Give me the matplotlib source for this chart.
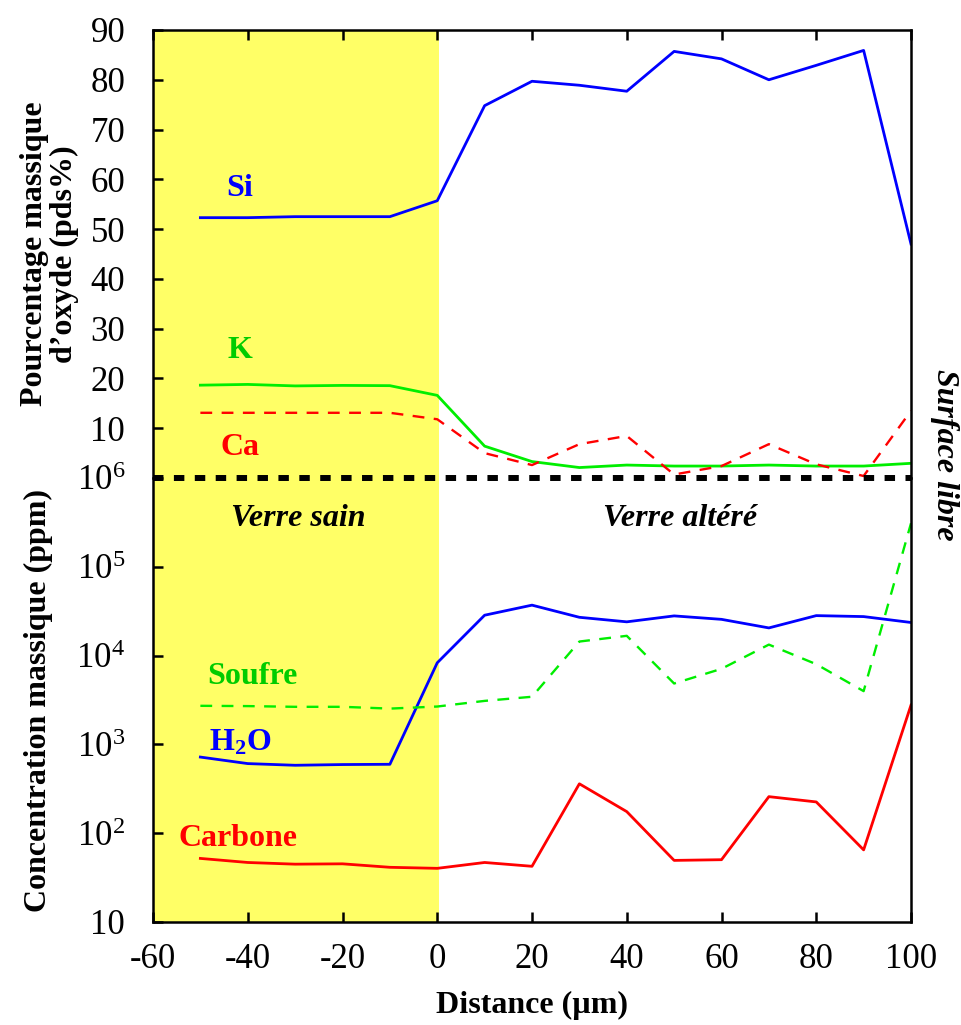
import matplotlib
matplotlib.use("Agg")
import matplotlib.pyplot as plt
from matplotlib.ticker import FixedLocator, FixedFormatter

plt.rcParams['font.family'] = ['Liberation Serif', 'DejaVu Serif']
plt.rcParams['mathtext.fontset'] = 'custom'
plt.rcParams['mathtext.rm'] = 'Liberation Serif'
plt.rcParams['mathtext.bf'] = 'Liberation Serif:bold'
plt.rcParams['mathtext.it'] = 'Liberation Serif:italic'

# ---- data ----
distance = [-50, -40, -30, -20, -10, 0, 10, 20, 30, 40, 50, 60, 70, 80, 90, 100]

# oxide weight percent (top panel)
si = [52.3, 52.3, 52.5, 52.5, 52.5, 55.7, 74.8, 79.7, 78.9, 77.7, 85.7, 84.2, 80.0, 82.9, 85.9, 47.0]
k = [18.65, 18.8, 18.5, 18.6, 18.55, 16.6, 6.4, 3.3, 2.1, 2.6, 2.4, 2.4, 2.6, 2.4, 2.4, 2.95]
ca = [13.1, 13.1, 13.1, 13.1, 13.1, 11.8, 5.0, 2.6, 6.8, 8.45, 0.7, 2.4, 6.8, 2.75, 0.4, 13.5]

# mass concentration ppm (bottom panel)
h2o = [720, 608, 582, 593, 597, 8300, 28500, 37000, 27000, 24000, 28000, 25600, 20500, 28200, 27500, 23600]
soufre = [2720, 2700, 2650, 2650, 2530, 2670, 3090, 3440, 14400, 16700, 4850, 7100, 13300, 8000, 3980, 309000]
carbone = [52, 46.8, 44.8, 45.2, 41.3, 40.2, 46.8, 42.4, 360, 175, 49.4, 50.3, 258, 225, 64.9, 2770]

x_ticks = [-60, -40, -20, 0, 20, 40, 60, 80, 100]
top_yticks = [10, 20, 30, 40, 50, 60, 70, 80, 90]
bottom_yticks = [10, 1e2, 1e3, 1e4, 1e5, 1e6]
bottom_ylabels = ['10', '10$^2$', '10$^3$', '10$^4$', '10$^5$', '10$^6$']

sain_range = (-60, 0.3)

BLUE = '#0000ff'
GREEN = '#00ee00'
GREEN_TXT = '#00cc00'
RED = '#ff0000'
YELLOW = '#ffff66'

TICK_FS = 25
LAB_FS = 23

fig = plt.figure(figsize=(9.61, 10.25), dpi=100)
left, right = 153 / 961, 911 / 961
y_top = 1 - 30 / 1025
y_mid = 1 - 478 / 1025
y_bot = 1 - 922 / 1025
ax1 = fig.add_axes([left, y_mid, right - left, y_top - y_mid])
ax2 = fig.add_axes([left, y_bot, right - left, y_mid - y_bot])

for ax in (ax1, ax2):
    ax.set_xlim(-60, 100)
    ax.axvspan(sain_range[0], sain_range[1], color=YELLOW, lw=0, zorder=0)
    for s in ax.spines.values():
        s.set_linewidth(1.8)

# top panel
ax1.set_ylim(0, 90)
ax1.plot(distance, si, color=BLUE, lw=2.0)
ax1.plot(distance, k, color=GREEN, lw=2.0)
ax1.plot(distance, ca, color=RED, lw=1.7, linestyle=(0, (5, 4)))
ax1.spines['bottom'].set_visible(False)
ax1.set_xticks(x_ticks)
ax1.xaxis.set_ticks_position('top')
ax1.tick_params(axis='x', direction='in', length=7, width=1.8, labeltop=False, labelbottom=False)
ax1.yaxis.set_major_locator(FixedLocator(top_yticks))
ax1.tick_params(axis='y', direction='in', length=7, width=1.8, labelsize=TICK_FS, pad=20)
ax1.set_ylabel("Pourcentage massique\nd\u2019oxyde (pds%)", fontsize=LAB_FS, fontweight='bold',
               labelpad=8, linespacing=1.05)

ax1.text(-41.6, 58.2, 'Si', color=BLUE, fontsize=LAB_FS, fontweight='bold', ha='center', va='center')
ax1.text(-41.6, 25.6, 'K', color=GREEN_TXT, fontsize=LAB_FS, fontweight='bold', ha='center', va='center')
ax1.text(-41.6, 6.2, 'Ca', color=RED, fontsize=LAB_FS, fontweight='bold', ha='center', va='center')

# bottom panel
ax2.set_yscale('log')
ax2.set_ylim(10, 1e6)
ax2.plot(distance, h2o, color=BLUE, lw=2.0)
ax2.plot(distance, soufre, color=GREEN, lw=1.7, linestyle=(0, (5, 4)))
ax2.plot(distance, carbone, color=RED, lw=2.0)
ax2.spines['top'].set_visible(False)
ax2.set_xticks(x_ticks)
ax2.set_xticklabels([str(v) for v in x_ticks])
ax2.tick_params(axis='x', direction='in', length=7, width=1.8, labelsize=TICK_FS, pad=15)
ax2.yaxis.set_major_locator(FixedLocator(bottom_yticks))
ax2.yaxis.set_major_formatter(FixedFormatter(bottom_ylabels))
ax2.yaxis.set_minor_locator(FixedLocator([]))
ax2.tick_params(axis='y', direction='in', length=7, width=1.8, labelsize=TICK_FS, pad=20)
ax2.set_ylabel("Concentration massique (ppm)", fontsize=LAB_FS, fontweight='bold', labelpad=17)
ax2.set_xlabel("Distance (\u00b5m)", fontsize=LAB_FS, fontweight='bold', labelpad=11)

# dashed separator line at 10^6
ax2.axhline(1e6, color='black', lw=4.3, linestyle=(0, (1.75, 1.75)), clip_on=False, zorder=5)

ax2.text(-29.4, 3.5e5, 'Verre sain', fontsize=LAB_FS, fontweight='bold', style='italic', ha='center', va='center')
ax2.text(51.2, 3.5e5, 'Verre alt\u00e9r\u00e9', fontsize=LAB_FS, fontweight='bold', style='italic', ha='center', va='center')
ax2.text(-39.1, 5750, 'Soufre', color=GREEN_TXT, fontsize=LAB_FS, fontweight='bold', ha='center', va='center')
ax2.text(-41.6, 1040, 'H$_\\mathbf{2}$O', color=BLUE, fontsize=LAB_FS, fontweight='bold', ha='center', va='center')
ax2.text(-42, 88, 'Carbone', color=RED, fontsize=LAB_FS, fontweight='bold', ha='center', va='center')

fig.text(945 / 961, 1 - 455 / 1025, 'Surface libre', fontsize=LAB_FS, fontweight='bold', style='italic',
         rotation=-90, ha='center', va='center')

fig.savefig('out.png', dpi=100)
